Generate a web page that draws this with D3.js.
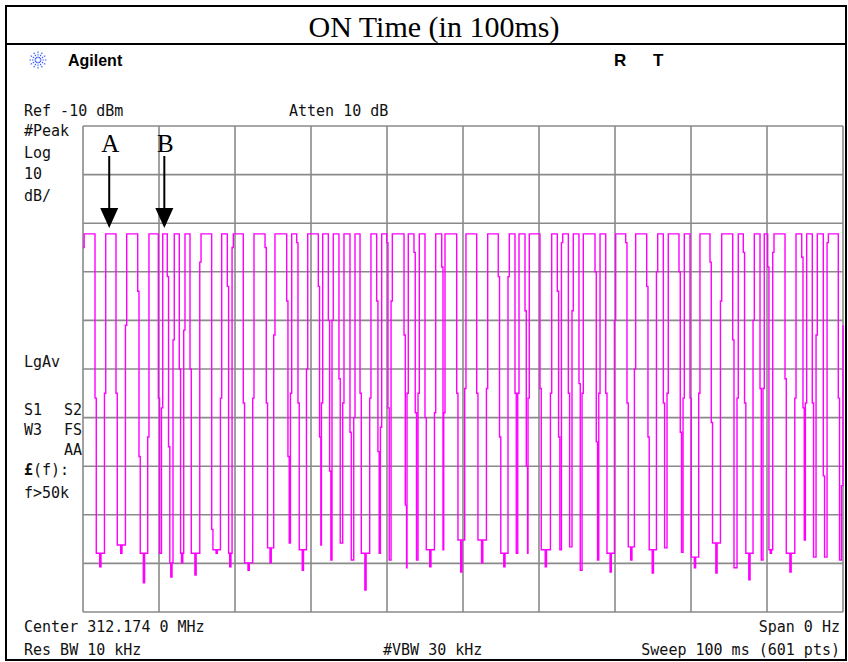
<!DOCTYPE html>
<html>
<head>
<meta charset="utf-8">
<script src="https://cdn.jsdelivr.net/npm/d3@7"></script>
<style>
  html, body { margin: 0; padding: 0; background: #fff; }
  svg { display: block; }
</style>
</head>
<body>
<svg id="chart" width="848" height="662"></svg>
<script>
// ---------------- DATA ----------------
const chartTitle = "ON Time (in 100ms)";
const sweepMs = [0, 100];
const levelDbm = [-110, -10];
const xGridMs = [0, 10, 20, 30, 40, 50, 60, 70, 80, 90, 100];
const yGridDbm = [-110, -100, -90, -80, -70, -60, -50, -40, -30, -20, -10];
const pulseTopDbm = -32.2;
const samplePoints = 601;

const pulseOnMs = [0.15, 2.99, 5.75, 8.68, 10.49, 12.01, 13.42, 15.53, 18.25, 19.78,
  22.50, 25.26, 27.46, 29.57, 31.54, 32.93, 34.34, 35.79, 37.89, 39.30,
  40.70, 42.80, 44.25, 46.41, 47.63, 50.39, 53.25, 56.09, 57.37, 58.72,
  61.67, 63.12, 64.51, 65.83, 68.03, 70.09, 72.72, 75.62, 77.01, 79.12,
  81.18, 84.04, 86.22, 88.33, 89.64, 90.92, 93.82, 95.22, 96.62, 98.07];
const pulseOffMs = [1.58, 4.34, 7.20, 9.91, 11.09, 12.67, 14.08, 16.93, 18.99, 21.09,
  23.95, 26.80, 28.12, 30.96, 32.28, 33.68, 35.13, 36.45, 38.64, 39.96,
  42.24, 43.55, 45.00, 47.20, 49.17, 51.80, 54.64, 56.84, 58.16, 60.13,
  62.41, 63.86, 65.26, 67.37, 68.78, 71.41, 74.17, 76.36, 78.42, 79.87,
  82.50, 85.49, 86.88, 89.08, 90.09, 92.37, 94.57, 95.96, 97.41, 99.38];
const riseStepDbm = [-35, -65, -51, -74, -68, -54, -52, -38, -66, -35,
  -66, -53, -65, -60, -67, -50, -67, -70, -66, -72,
  -46, -65, -65, -69, -69, -64, -64, -41, -65, -66,
  -65, -34, -48, -65, -65, -50, -60, -40, -65, -66,
  -65, -46, -66, -50, -64, -36, -66, -67, -53, -34];
const fallUpperDbm = [null, null, -44, null, -41, null, null, null, null, null,
  -35, -46, -34, -43, -50, null, null, null, -46, -34,
  -53, -36, null, null, null, null, -41, null, -48, null,
  -44, null, null, -40, null, -34, -43, null, -40, null,
  -38, null, -36, null, null, null, -37, null, null, null];
const fallStepDbm = [-66, -65, -78, -66, -76, -60, -60, -93, -43, -67,
  -67, -78, -67, -74, -81, -62, -73, -65, -77, -68,
  -88, -69, -70, -39, -65, -65, -74, -65, -80, -64,
  -74, -65, -63, -75, -65, -67, -74, -67, -73, -66,
  -71, -54, -67, -64, -39, -62, -68, -67, -82, -66];
const gapFloorDbm = [-97.9, -96.2, -97.9, -97.9, -99.9, -97.9, -97.9, -97.2, -97.9, -99.9,
  -96.8, -95.8, -97.2, -96.2, -99.3, -95.8, -99.3, -97.9, -97.9, -99.3,
  -100.9, -99.3, -97.2, -97.2, -95.2, -95.2, -97.9, -97.9, -97.9, -97.2,
  -97.2, -96.6, -101.4, -99.3, -97.9, -96.6, -97.2, -96.8, -97.7, -98.7,
  -95.8, -100.9, -97.9, -99.3, -97.2, -97.9, -95.2, -98.7, -98.7, -99.3];
const gapDipDbm = [-100.7, -97.9, -104.0, -99.9, -102.8, -99.9, -102.4, -97.9, -100.7, -101.4,
  -99.9, -97.9, -101.4, -97.9, -101.4, -97.2, -100.7, -105.5, -99.3, -99.9,
  -101.4, -100.7, -100.7, -97.9, -101.8, -99.9, -100.7, -97.9, -97.9, -100.7,
  -97.9, -97.9, -101.4, -99.9, -101.8, -99.3, -102.0, -102.0, -100.7, -100.9,
  -102.0, -100.9, -103.4, -99.3, -97.9, -101.8, -97.9, -98.7, -102.0, -99.3];
const endRiseMs = [99.8, 100];
const endRiseDbm = [-84, -51];

const markers = [{label: "A", ms: 3.45}, {label: "B", ms: 10.7}];

const headerLeft = "Ref -10 dBm";
const headerMid = "Atten 10 dB";
const sideLabels = ["#Peak", "Log", "10", "dB/"];
const footer = [["Center 312.174 0 MHz", "", "Span 0 Hz"], ["Res BW 10 kHz", "#VBW 30 kHz", "Sweep 100 ms (601 pts)"]];

// ---------------- DRAW ----------------
const svg = d3.select("#chart");
const W = 848, H = 662;
const plot = {left: 83, right: 843, top: 126, bottom: 612};
const x = d3.scaleLinear().domain(sweepMs).range([plot.left, plot.right]);
const y = d3.scaleLinear().domain(levelDbm).range([plot.bottom, plot.top]);

svg.append("rect").attr("width", W).attr("height", H).attr("fill", "#fff");

// Outer frame and title
svg.append("rect").attr("x", 6).attr("y", 6).attr("width", 840).attr("height", 654)
  .attr("fill", "none").attr("stroke", "#000").attr("stroke-width", 2);
svg.append("line").attr("x1", 6).attr("x2", 846).attr("y1", 44).attr("y2", 44)
  .attr("stroke", "#000").attr("stroke-width", 2);
svg.append("text").attr("x", 434).attr("y", 37).attr("text-anchor", "middle")
  .attr("font-family", "Liberation Serif, Times New Roman, serif").attr("font-size", 30)
  .attr("fill", "#000").text(chartTitle);

// Agilent logo
const logo = svg.append("g").attr("transform", "translate(38,60)");
d3.range(12).forEach(k => {
  const a = k * Math.PI / 6;
  logo.append("line").attr("x1", Math.cos(a) * 2).attr("y1", Math.sin(a) * 2)
    .attr("x2", Math.cos(a) * 8.5).attr("y2", Math.sin(a) * 8.5)
    .attr("stroke", "#3a5cff").attr("stroke-width", 1.1).attr("stroke-dasharray", "1.5,1");
});
svg.append("text").attr("x", 68).attr("y", 66)
  .attr("font-family", "Liberation Sans, Arial, sans-serif").attr("font-weight", "bold")
  .attr("font-size", 16).attr("fill", "#000").text("Agilent");
svg.append("text").attr("x", 614).attr("y", 66)
  .attr("font-family", "Liberation Sans, Arial, sans-serif").attr("font-weight", "bold")
  .attr("font-size", 17).attr("fill", "#000").text("R");
svg.append("text").attr("x", 653).attr("y", 66)
  .attr("font-family", "Liberation Sans, Arial, sans-serif").attr("font-weight", "bold")
  .attr("font-size", 17).attr("fill", "#000").text("T");

const monoFont = "DejaVu Sans Mono, monospace";
const txt = (str, xx, yy, anchor) => svg.append("text").attr("x", xx).attr("y", yy)
  .attr("text-anchor", anchor || "start").attr("font-family", monoFont)
  .attr("font-size", 15).attr("fill", "#111").text(str);

txt(headerLeft, 24, 116);
txt(headerMid, 289, 116);
sideLabels.forEach((s, i) => txt(s, 24, 136 + i * 21.5));
txt("LgAv", 24, 367);
txt("S1", 24, 415); txt("S2", 82, 415, "end");
txt("W3", 24, 435); txt("FS", 82, 435, "end");
txt("AA", 82, 455, "end");
const pound = svg.append("text").attr("x", 24).attr("y", 475).attr("font-family", monoFont)
  .attr("font-size", 15).attr("fill", "#111");
pound.append("tspan").attr("font-weight", "bold").text("£");
pound.append("tspan").text("(f):");
txt("f>50k", 24, 498);

txt(footer[0][0], 24, 632);
txt(footer[0][2], 840, 632, "end");
txt(footer[1][0], 24, 655);
txt(footer[1][1], 383, 655);
txt(footer[1][2], 840, 655, "end");

// Grid
const grid = svg.append("g").attr("stroke", "#8a8a8a").attr("stroke-width", 1.6);
grid.selectAll("line.v").data(xGridMs).join("line")
  .attr("x1", d => x(d)).attr("x2", d => x(d)).attr("y1", plot.top).attr("y2", plot.bottom);
grid.selectAll("line.h").data(yGridDbm).join("line")
  .attr("x1", plot.left).attr("x2", plot.right).attr("y1", d => y(d)).attr("y2", d => y(d));

// Trace (601-point sweep, one display sample = dt)
const dt = (sweepMs[1] - sweepMs[0]) / (samplePoints - 1);
const pts = [];
pulseOnMs.forEach((on, i) => {
  const off = pulseOffMs[i];
  pts.push([Math.max(sweepMs[0], on - dt), riseStepDbm[i]]);
  pts.push([on, pulseTopDbm]);
  let t = off;
  if (fallUpperDbm[i] !== null) { pts.push([t, fallUpperDbm[i]]); t += dt; }
  pts.push([t, fallStepDbm[i]]);
  t += dt;
  pts.push([t, gapFloorDbm[i]]);
  const nextStart = i < pulseOnMs.length - 1 ? pulseOnMs[i + 1] - dt : endRiseMs[0];
  if (nextStart - t > 2 * dt) {
    const mid = (t + nextStart) / 2;
    pts.push([mid - dt / 2, gapDipDbm[i]]);
    pts.push([mid + dt / 2, gapFloorDbm[i]]);
  }
});
endRiseMs.forEach((t, i) => pts.push([t, endRiseDbm[i]]));

svg.append("defs").append("clipPath").attr("id", "clip").append("rect")
  .attr("x", plot.left - 2).attr("y", plot.top).attr("width", plot.right - plot.left + 3)
  .attr("height", plot.bottom - plot.top);

const line = d3.line().x(d => x(d[0])).y(d => y(d[1])).curve(d3.curveStepAfter);
svg.append("path").datum(pts).attr("d", line).attr("clip-path", "url(#clip)")
  .attr("fill", "none").attr("stroke", "#ff00ff").attr("stroke-width", 1.4)
  .attr("stroke-linejoin", "miter");

// Markers A / B
markers.forEach(m => {
  const mx = x(m.ms);
  svg.append("text").attr("x", mx + 1).attr("y", 152).attr("text-anchor", "middle")
    .attr("font-family", "Liberation Serif, Times New Roman, serif").attr("font-size", 25)
    .attr("fill", "#000").text(m.label);
  svg.append("line").attr("x1", mx).attr("x2", mx).attr("y1", 156).attr("y2", 212)
    .attr("stroke", "#000").attr("stroke-width", 2);
  svg.append("path").attr("d", `M${mx - 9},${208} L${mx + 9},${208} L${mx},${228} Z`)
    .attr("fill", "#000");
});
</script>
</body>
</html>
